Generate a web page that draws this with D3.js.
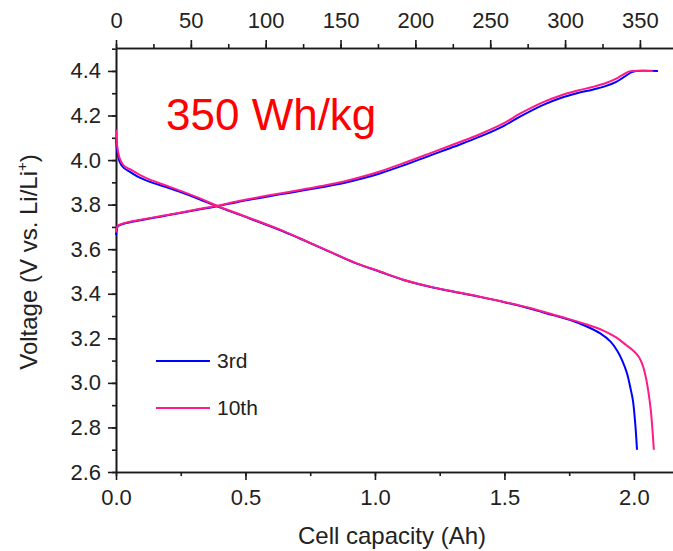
<!DOCTYPE html>
<html><head><meta charset="utf-8">
<script src="https://cdn.jsdelivr.net/npm/d3@7"></script>
<style>
body{margin:0;background:#fff;}
svg{display:block;font-family:"Liberation Sans",Arial,sans-serif;}
</style></head><body>
<svg id="c" width="673" height="551"></svg>
<script>
// ---- data ----
const seriesNames = ["3rd", "10th"];
const seriesColors = ["#0000ff", "#ff1a8c"];
const capTicks = [0, 0.5, 1.0, 1.5, 2.0];
const energyTicks = [0, 50, 100, 150, 200, 250, 300, 350];
const voltTicks = [2.6, 2.8, 3.0, 3.2, 3.4, 3.6, 3.8, 4.0, 4.2, 4.4];

// 3rd cycle - charge [capacity Ah, voltage V]
const charge3 = [[0,3.663],[0.003,3.69],[0.008,3.704],[0.05,3.72],[0.095,3.73],[0.17,3.746],[0.247,3.762],[0.32,3.778],[0.39,3.793],[0.47,3.812],[0.55,3.829],[0.633,3.846],[0.71,3.861],[0.80,3.879],[0.88,3.897],[0.95,3.917],[1.019,3.94],[1.11,3.976],[1.212,4.02],[1.31,4.062],[1.405,4.105],[1.5,4.155],[1.56,4.195],[1.65,4.248],[1.72,4.28],[1.78,4.3],[1.84,4.316],[1.89,4.332],[1.93,4.35],[1.965,4.375],[1.99,4.394],[2.008,4.40],[2.093,4.40]];
// 10th cycle - charge
const charge10 = [[0,3.675],[0.003,3.695],[0.008,3.706],[0.05,3.722],[0.095,3.732],[0.17,3.748],[0.247,3.764],[0.32,3.78],[0.39,3.795],[0.47,3.815],[0.55,3.833],[0.633,3.85],[0.71,3.866],[0.80,3.885],[0.88,3.904],[0.95,3.925],[1.019,3.949],[1.11,3.986],[1.212,4.03],[1.31,4.073],[1.405,4.116],[1.5,4.167],[1.56,4.208],[1.65,4.26],[1.72,4.291],[1.78,4.311],[1.84,4.328],[1.89,4.345],[1.93,4.364],[1.96,4.385],[1.98,4.397],[1.996,4.40],[2.073,4.40]];
// 3rd cycle - discharge
const discharge3 = [[0,4.10],[0.005,4.04],[0.015,3.99],[0.03,3.965],[0.054,3.947],[0.09,3.922],[0.131,3.902],[0.19,3.88],[0.247,3.857],[0.32,3.825],[0.39,3.792],[0.5,3.745],[0.633,3.686],[0.71,3.648],[0.826,3.588],[0.92,3.54],[1.019,3.499],[1.11,3.462],[1.212,3.431],[1.30,3.41],[1.405,3.386],[1.5,3.362],[1.598,3.334],[1.687,3.304],[1.76,3.28],[1.818,3.253],[1.87,3.222],[1.91,3.185],[1.935,3.145],[1.955,3.10],[1.973,3.044],[1.986,2.98],[1.996,2.923],[2.005,2.82],[2.012,2.70]];
// 10th cycle - discharge
const discharge10 = [[0,4.137],[0.005,4.06],[0.015,4.005],[0.03,3.975],[0.054,3.959],[0.09,3.935],[0.131,3.912],[0.19,3.887],[0.247,3.863],[0.32,3.83],[0.39,3.795],[0.5,3.747],[0.633,3.688],[0.71,3.649],[0.826,3.589],[0.92,3.541],[1.019,3.5],[1.11,3.463],[1.212,3.432],[1.30,3.411],[1.405,3.387],[1.5,3.363],[1.598,3.336],[1.687,3.307],[1.75,3.286],[1.818,3.262],[1.88,3.236],[1.93,3.205],[1.97,3.17],[2.0,3.142],[2.02,3.115],[2.035,3.075],[2.047,3.02],[2.056,2.96],[2.065,2.88],[2.071,2.80],[2.077,2.70]];

const curves = [
  {s:0, d:charge3}, {s:0, d:discharge3},
  {s:1, d:charge10}, {s:1, d:discharge10}
];

// ---- layout ----
const L = 116, R = 673, T = 48, B = 472;
const svg = d3.select("#c");
const x = d3.scaleLinear().domain([0, 2.151]).range([L, R]);
const xTop = d3.scaleLinear().domain([0, 372.1]).range([L, R]);
const y = d3.scaleLinear().domain([2.6, 4.503]).range([B, T]);

const axisCol = "#1a1a1a";
function styleAxis(g, fs){
  g.select(".domain").attr("stroke", axisCol).attr("stroke-width", 1.6);
  g.selectAll(".tick line").attr("stroke", axisCol).attr("stroke-width", 1.6);
  g.selectAll(".tick text").attr("fill", "#222").attr("font-size", fs);
}

// minor ticks
const minorX = d3.range(0, 2.151, 0.25);
const minorTop = d3.range(0, 372, 25);
const minorY = d3.range(2.6, 4.51, 0.1).map(v => +v.toFixed(2));

svg.append("g").attr("transform", `translate(0,${B})`)
  .call(d3.axisBottom(x).tickValues(minorX).tickSize(4).tickFormat("").tickSizeOuter(0))
  .call(g => styleAxis(g, 22));
svg.append("g").attr("transform", `translate(0,${T})`)
  .call(d3.axisTop(xTop).tickValues(minorTop).tickSize(4).tickFormat("").tickSizeOuter(0))
  .call(g => styleAxis(g, 22));
svg.append("g").attr("transform", `translate(${L},0)`)
  .call(d3.axisLeft(y).tickValues(minorY).tickSize(4).tickFormat("").tickSizeOuter(0))
  .call(g => styleAxis(g, 22));

// major ticks
svg.append("g").attr("transform", `translate(0,${B})`)
  .call(d3.axisBottom(x).tickValues(capTicks).tickSize(8).tickPadding(9).tickFormat(d3.format(".1f")).tickSizeOuter(0))
  .call(g => styleAxis(g, 22));
svg.append("g").attr("transform", `translate(0,${T})`)
  .call(d3.axisTop(xTop).tickValues(energyTicks).tickSize(8).tickPadding(12).tickFormat(d3.format("d")).tickSizeOuter(0))
  .call(g => styleAxis(g, 22));
svg.append("g").attr("transform", `translate(${L},0)`)
  .call(d3.axisLeft(y).tickValues(voltTicks).tickSize(8).tickPadding(7).tickFormat(d3.format(".1f")).tickSizeOuter(0))
  .call(g => styleAxis(g, 22));

// curves
const lineM = d3.line().x(d => x(d[0])).y(d => y(d[1])).curve(d3.curveCatmullRom.alpha(0.5));
curves.forEach(c => {
  svg.append("path").datum(c.d)
    .attr("d", lineM)
    .attr("fill", "none")
    .attr("stroke", seriesColors[c.s])
    .attr("stroke-width", 2)
    .attr("stroke-linejoin", "round");
});

// legend
const legY = [361, 408];
seriesNames.forEach((n, i) => {
  svg.append("line").attr("x1", 156).attr("x2", 210).attr("y1", legY[i]).attr("y2", legY[i])
    .attr("stroke", seriesColors[i]).attr("stroke-width", 2);
  svg.append("text").attr("x", 217).attr("y", legY[i] + 7).attr("font-size", 21)
    .attr("fill", "#222").text(n);
});

// annotation
svg.append("text").attr("x", 166).attr("y", 130).attr("font-size", 44)
  .attr("fill", "#ff0000").text("350 Wh/kg");

// axis titles
svg.append("text").attr("x", 392).attr("y", 544).attr("text-anchor", "middle")
  .attr("font-size", 24).attr("fill", "#222").text("Cell capacity (Ah)");
const yt = svg.append("text").attr("transform", "translate(37,262) rotate(-90)")
  .attr("text-anchor", "middle").attr("font-size", 24).attr("fill", "#222");
yt.append("tspan").text("Voltage (V vs. Li/Li");
yt.append("tspan").attr("font-size", 15).attr("dy", -10).text("+");
yt.append("tspan").attr("dy", 10).text(")");
</script>
</body></html>
